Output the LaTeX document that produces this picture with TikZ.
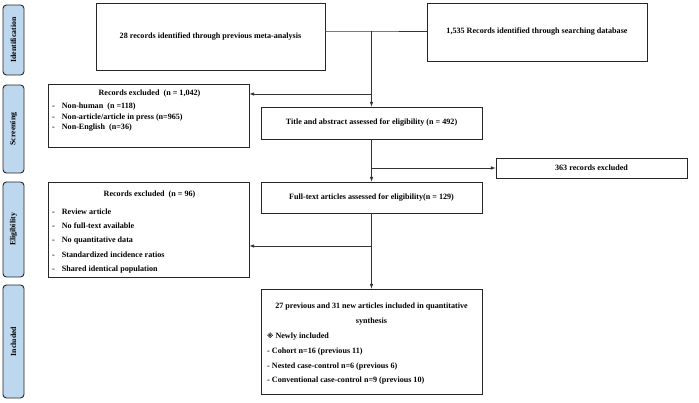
\documentclass[tikz,border=0pt]{standalone}
\usepackage{fontspec}
\setmainfont{Liberation Serif}
\newfontfamily\markfont{DejaVu Sans}
\usetikzlibrary{arrows.meta, positioning}

\definecolor{stagefill}{HTML}{BDD7EE}
\tikzset{
  stage/.style={draw=black!85, fill=stagefill, rounded corners=3.5pt, line width=0.9pt,
    minimum height=21pt, inner sep=0pt, rotate=90,
    font=\bfseries\fontsize{7.8}{9}\selectfont},
  box/.style={draw=black!85, line width=0.9pt, inner sep=0pt,
    font=\bfseries\fontsize{8.1}{9.5}\selectfont},
  txt/.style={inner sep=0pt, font=\bfseries\fontsize{8.1}{9.5}\selectfont},
  flow/.style={draw=black!80, line width=0.6pt},
}

\begin{document}
\begin{tikzpicture}[x=1pt, y=-1pt, >=latex]
  \useasboundingbox (0,0) rectangle (699,402);

  % stage bars
  \node[stage, minimum width=70pt] (ident) at (13.5,40) {Identification};
  \node[stage, minimum width=88pt] (screen) at (13.5,129) {Screening};
  \node[stage, minimum width=95pt] (elig) at (13.5,229.5) {Eligibility};
  \node[stage, minimum width=113pt] (incl) at (13.5,341.5) {Included};

  % boxes
  \node[box, minimum width=229pt, minimum height=67pt] (prev) at (210.5,36.5)
    {28 records identified through previous meta-analysis};
  \node[box, minimum width=220pt, minimum height=58pt] (search) at (537,32)
    {1,535 Records identified through searching database};
  \node[box, minimum width=221pt, minimum height=32pt] (title) at (371.5,123)
    {Title and abstract assessed for eligibility (n = 492)};
  \node[box, minimum width=191pt, minimum height=20pt] (excl363) at (591.5,168)
    {363 records excluded};
  \node[box, minimum width=221pt, minimum height=31pt] (full) at (371.5,197.5)
    {Full-text articles assessed for eligibility(n = 129)};

  \node[box, minimum width=201pt, minimum height=63pt] (exclA) at (148.5,115.5) {};
  \node[txt] (exclAhead) at (149.5,94) {Records excluded\ \ (n = 1,042)};
  \node[txt, anchor=west] (exclA1) at (52,107) {-\hspace{7pt}Non-human\ \ (n =118)};
  \node[txt, anchor=west] (exclA2) at (52,117.5) {-\hspace{7pt}Non-article/article in press (n=965)};
  \node[txt, anchor=west] (exclA3) at (52,128) {-\hspace{7pt}Non-English\ \ (n=36)};

  \node[box, minimum width=201pt, minimum height=95pt] (exclB) at (148.5,230) {};
  \node[txt] (exclBhead) at (149.5,195) {Records excluded\ \ (n = 96)};
  \node[txt, anchor=west] (exclB1) at (52,211.5) {-\hspace{7pt}Review article};
  \node[txt, anchor=west] (exclB2) at (52,226) {-\hspace{7pt}No full-text available};
  \node[txt, anchor=west] (exclB3) at (52,240.5) {-\hspace{7pt}No quantitative data};
  \node[txt, anchor=west] (exclB4) at (52,255) {-\hspace{7pt}Standardized incidence ratios};
  \node[txt, anchor=west] (exclB5) at (52,269.5) {-\hspace{7pt}Shared identical population};

  \node[box, minimum width=221pt, minimum height=105pt] (final) at (371.5,341.5) {};
  \node[txt] (final1) at (371.5,307) {27 previous and 31 new articles included in quantitative};
  \node[txt] (final2) at (371.5,322) {synthesis};
  \node[txt, anchor=west] (final3) at (267,337) {{\markfont\fontsize{6.5}{8}\selectfont ※} Newly included};
  \node[txt, anchor=west] (final4) at (267,352) {- Cohort n=16 (previous 11)};
  \node[txt, anchor=west] (final5) at (267,366.5) {- Nested case-control n=6 (previous 6)};
  \node[txt, anchor=west] (final6) at (267,381) {- Conventional case-control n=9 (previous 10)};

  % connectors
  \coordinate (join) at (371.5,31);
  \coordinate (toA) at (371.5,94);
  \coordinate (to363) at (371.5,168);
  \coordinate (toB) at (371.5,246);
  \draw[flow] (prev.east |- join) -- (join) -- (search.west |- join);
  \draw[flow, ->] (join) -- (title);
  \draw[flow, ->] (toA) -- (exclA.east |- toA);
  \draw[flow, ->] (title) -- (full);
  \draw[flow, ->] (to363) -- (excl363);
  \draw[flow, ->] (full) -- (final);
  \draw[flow, ->] (toB) -- (exclB.east |- toB);
\end{tikzpicture}
\end{document}
